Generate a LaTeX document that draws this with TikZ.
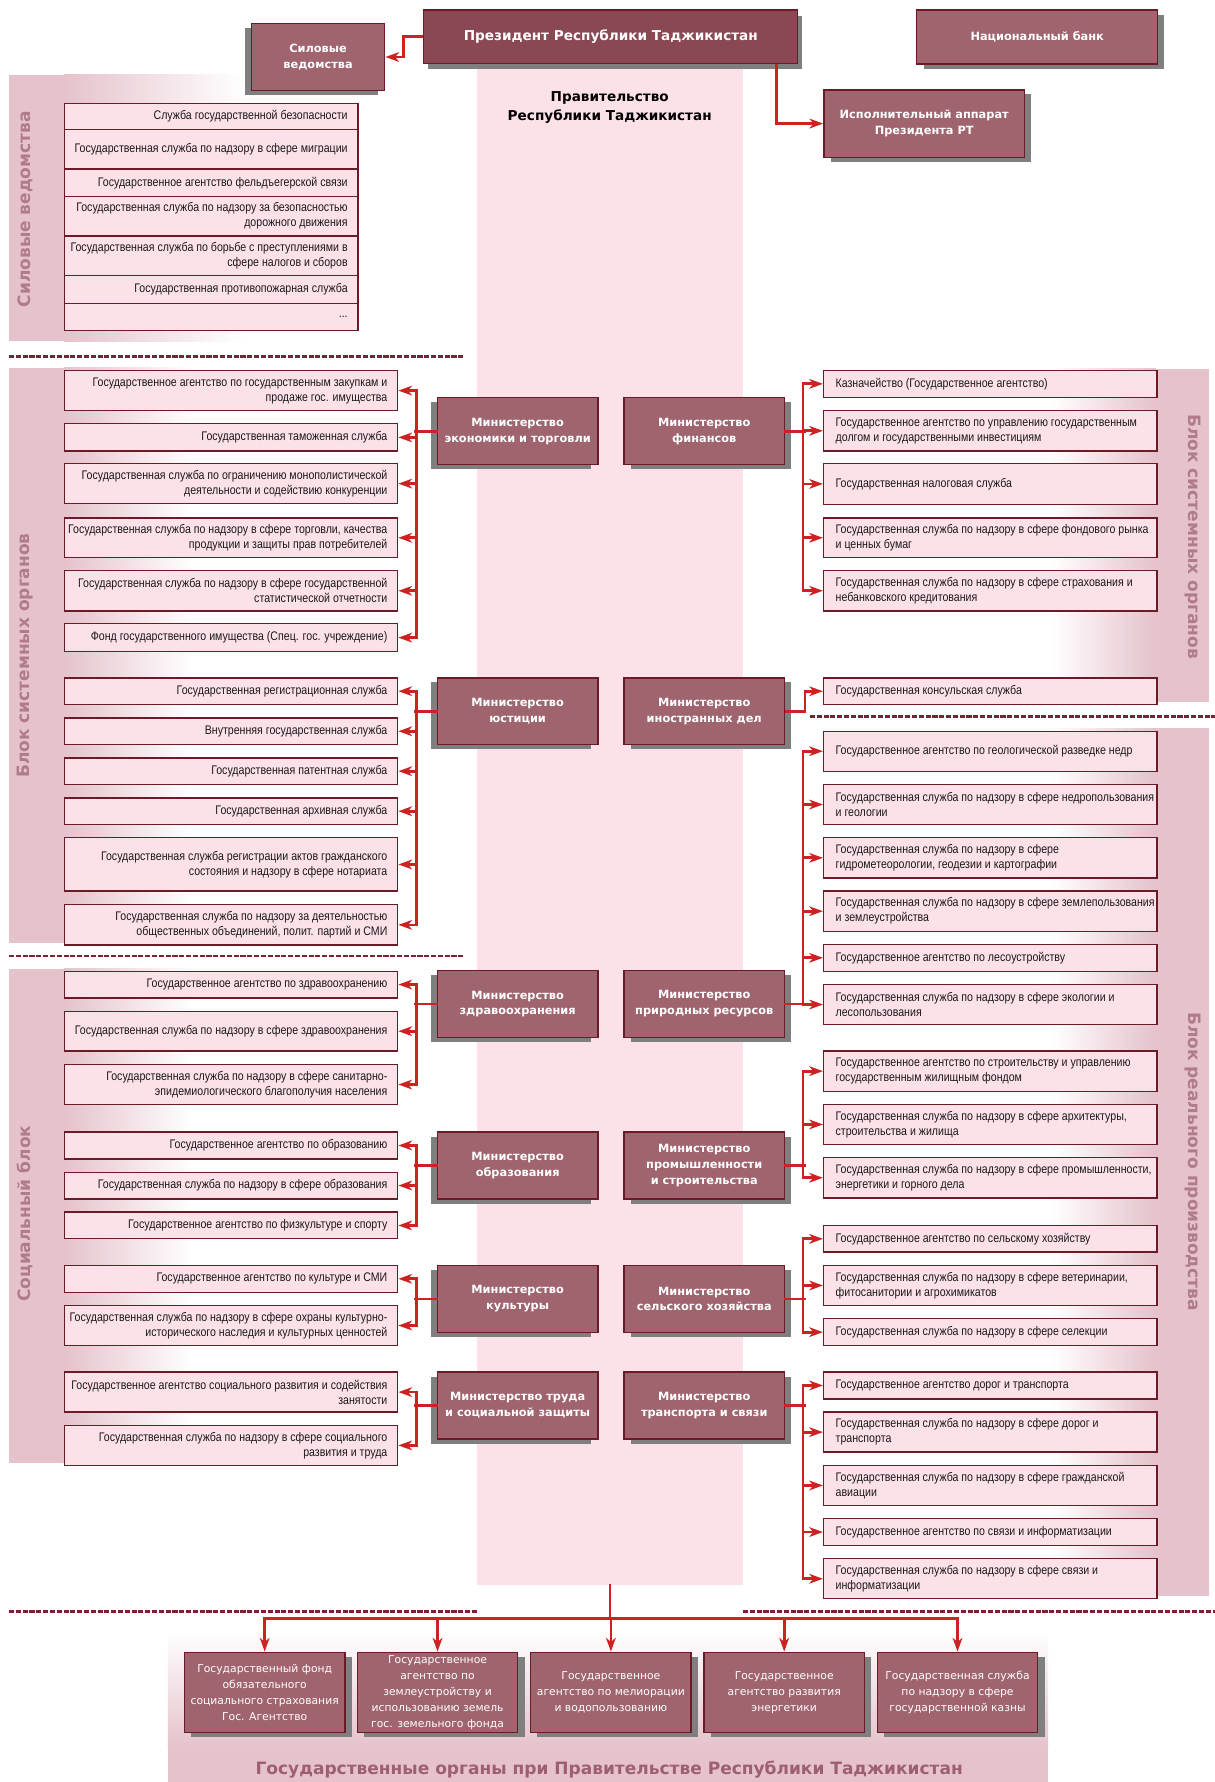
\documentclass[tikz,border=0pt]{standalone}
\usepackage{fontspec}
\setmainfont{Liberation Sans}
\newfontfamily\itemfont[FakeStretch=0.85]{Liberation Sans}
\newfontfamily\dvs{DejaVu Sans}
\usetikzlibrary{arrows.meta,shadows,calc}
\definecolor{govpink}{HTML}{FDE1E9}
\definecolor{itemfill}{HTML}{FDE1E9}
\definecolor{bandc}{HTML}{E5C2CC}
\definecolor{labelc}{HTML}{B07C8C}
\definecolor{minfill}{HTML}{A0646F}
\definecolor{presfill}{HTML}{8A4852}
\definecolor{borderc}{HTML}{6B1A28}
\definecolor{arrowc}{HTML}{CC2222}
\definecolor{dashc}{HTML}{7A2232}
\definecolor{shadowc}{HTML}{7F7F7F}
\definecolor{titlec}{HTML}{9E6070}
\tikzset{
  itembox/.style={draw=borderc, line width=1.2pt, fill=itemfill, anchor=north west, inner sep=0pt},
  ltext/.style={anchor=east, align=right, inner sep=0pt, text=black!90, font={\itemfont\fontsize{11}{13.2}\selectfont}},
  rtext/.style={anchor=west, align=left, inner sep=0pt, text=black!90, font={\itemfont\fontsize{11}{13.2}\selectfont}},
  shL/.style={drop shadow={shadow xshift=-6pt, shadow yshift=-4pt, opacity=1, fill=shadowc}},
  shR/.style={drop shadow={shadow xshift=6pt, shadow yshift=-4pt, opacity=1, fill=shadowc}},
  minbox/.style={draw=borderc, line width=1.2pt, fill=minfill, anchor=north west, minimum width=141.5pt, minimum height=59pt, inner sep=1pt, align=center, text=white, font={\dvs\bfseries\fontsize{10}{14}\selectfont}},
  minL/.style={minbox, shL},
  minR/.style={minbox, shR},
  botbox/.style={draw=borderc, line width=1.2pt, fill=minfill, anchor=north west, minimum width=141.5pt, minimum height=71pt, inner sep=1pt, align=center, text=white, font={\dvs\fontsize{9.5}{14}\selectfont}, shR},
  bus/.style={draw=arrowc, line width=2.4pt, line cap=rect},
  arr/.style={draw=arrowc, line width=2.4pt, -{Stealth[length=12pt,width=8.5pt,inset=3.5pt]}},
  dashsep/.style={draw=dashc, line width=2.4pt, dash pattern=on 4.5pt off 1.5pt},
  vlabel/.style={text=labelc, inner sep=0pt, font={\dvs\bfseries\fontsize{15}{18}\selectfont}},
}
\newcommand\Sitem[4]{\node[itembox, minimum width=259pt, minimum height=#3pt] (#1) at (56,#2) {};
  \node[ltext] (#1t) at ([xshift=-9.5pt]#1.east) {#4};}
\newcommand\Litem[4]{\node[itembox, minimum width=294pt, minimum height=#3pt] (#1) at (56,#2) {};
  \node[ltext] (#1t) at ([xshift=-9.5pt]#1.east) {#4};}
\newcommand\Ritem[4]{\node[itembox, minimum width=294pt, minimum height=#3pt] (#1) at (725.5,#2) {};
  \node[rtext] (#1t) at ([xshift=11pt]#1.west) {#4};}
\newcommand\LeftBus[3]{\draw[bus] (#1.west) -- ++(-19,0);
  \draw[bus] ([xshift=16pt]#2.east) -- ([xshift=16pt]#3.east);}
\newcommand\RightBus[3]{\draw[bus] (#1.east) -- ++(17.5,0);
  \draw[bus] ([xshift=-17.5pt]#2.west) -- ([xshift=-17.5pt]#3.west);}
\begin{document}
\begin{tikzpicture}[x=1pt,y=-1pt]
\useasboundingbox (0,0) rectangle (1071,1571);
\fill[white] (0,0) rectangle (1071,1571);
% side bands
\fill[bandc] (8,66) rectangle (56,301);
\shade[left color=bandc, right color=white] (56,66) rectangle (215,301);
\fill[bandc] (8,324) rectangle (56,831);
\shade[left color=bandc, right color=white] (56,324) rectangle (170,831);
\fill[bandc] (8,854) rectangle (56,1290);
\shade[left color=bandc, right color=white] (56,854) rectangle (170,1290);
\fill[bandc] (1019,325) rectangle (1066,619);
\shade[left color=white, right color=bandc] (927,325) rectangle (1019,619);
\fill[bandc] (1019,642) rectangle (1066,1407);
\shade[left color=white, right color=bandc] (927,642) rectangle (1019,1407);
\shade[top color=white, bottom color=bandc] (148,1438) rectangle (924,1540);
\fill[bandc] (148,1540) rectangle (924,1571);
% government column
\node[fill=govpink, anchor=north west, minimum width=235pt, minimum height=1342pt, inner sep=0pt] (gov) at (420,55) {};
\node[font={\dvs\bfseries\fontsize{12}{16}\selectfont}, align=center, inner sep=0pt] (govt) at (537.5,94.8) {Правительство\\Республики Таджикистан};
% dashed separators
\draw[dashsep] (8,314) -- (409,314);
\draw[dashsep] (8,842.7) -- (409,842.7);
\draw[dashsep] (714,631.7) -- (1071,631.7);
\draw[dashsep] (8,1420.6) -- (421,1420.6);
\draw[dashsep] (655,1420.6) -- (1071,1420.6);
% vertical labels
\node[vlabel, rotate=90] (lblsil) at (22,184.5) {Силовые ведомства};
\node[vlabel, rotate=90] (lblsys) at (22,578) {Блок системных органов};
\node[vlabel, rotate=90] (lblsoc) at (22,1070) {Социальный блок};
\node[vlabel, rotate=-90] (lblsysr) at (1051.5,473) {Блок системных органов};
\node[vlabel, rotate=-90] (lblreal) at (1051.5,1024) {Блок реального производства};
% top boxes
\node[minbox, fill=presfill, minimum width=329.7pt, minimum height=47pt, font={\dvs\bfseries\fontsize{12}{15}\selectfont}, drop shadow={shadow xshift=4pt, shadow yshift=-5pt, opacity=1, fill=shadowc}] (pres) at (373,8.2) {Президент Республики Таджикистан};
\node[minbox, shL, minimum width=117.6pt, minimum height=59.3pt] (sil) at (221,20) {Силовые\\ведомства};
\node[minbox, shR, minimum width=212.4pt, minimum height=47.6pt] (nb) at (807.6,8.2) {Национальный банк};
\node[minbox, shR, minimum width=177pt, minimum height=59.3pt] (exec) at (725.7,78.7) {Исполнительный аппарат\\Президента РТ};
% power items
\Sitem{s1}{90.5}{23}{Служба государственной безопасности}
\Sitem{s2}{113.5}{35}{Государственная служба по надзору в сфере миграции}
\Sitem{s3}{148.5}{24}{Государственное агентство фельдъегерской связи}
\Sitem{s4}{172.5}{35}{Государственная служба по надзору за безопасностью\\дорожного движения}
\Sitem{s5}{207.5}{35}{Государственная служба по борьбе с преступлениями в\\сфере налогов и сборов}
\Sitem{s6}{242.5}{24.5}{Государственная противопожарная служба}
\Sitem{s7}{267}{24}{...}
% left items
\Litem{e1}{326}{35.5}{Государственное агентство по государственным закупкам и\\продаже гос. имущества}
\Litem{e2}{373}{24}{Государственная таможенная служба}
\Litem{e3}{408}{35.5}{Государственная служба по ограничению монополистической\\деятельности и содействию конкуренции}
\Litem{e4}{456}{35}{Государственная служба по надзору в сфере торговли, качества\\продукции и защиты прав потребителей}
\Litem{e5}{502.5}{35.5}{Государственная служба по надзору в сфере государственной\\статистической отчетности}
\Litem{e6}{549}{25}{Фонд государственного имущества (Спец. гос. учреждение)}
\Litem{j1}{597}{23.5}{Государственная регистрационная служба}
\Litem{j2}{632.3}{23.5}{Внутренняя государственная служба}
\Litem{j3}{667.5}{23.5}{Государственная патентная служба}
\Litem{j4}{702.8}{23.5}{Государственная архивная служба}
\Litem{j5}{738}{47}{Государственная служба регистрации актов гражданского\\состояния и надзору в сфере нотариата}
\Litem{j6}{797}{35.5}{Государственная служба по надзору за деятельностью\\общественных объединений, полит. партий и СМИ}
\Litem{h1}{855.6}{23.5}{Государственное агентство по здравоохранению}
\Litem{h2}{891}{35}{Государственная служба по надзору в сфере здравоохранения}
\Litem{h3}{938}{35}{Государственная служба по надзору в сфере санитарно-\\эпидемиологического благополучия населения}
\Litem{o1}{997.5}{23.5}{Государственное агентство по образованию}
\Litem{o2}{1032.8}{23.5}{Государственная служба по надзору в сфере образования}
\Litem{o3}{1068}{23.5}{Государственное агентство по физкультуре и спорту}
\Litem{c1}{1115}{23.6}{Государственное агентство по культуре и СМИ}
\Litem{c2}{1150.3}{35.3}{Государственная служба по надзору в сфере охраны культурно-\\исторического наследия и культурных ценностей}
\Litem{t1}{1209}{35.3}{Государственное агентство социального развития и содействия\\занятости}
\Litem{t2}{1256}{35.3}{Государственная служба по надзору в сфере социального\\развития и труда}
% right items
\Ritem{f1}{326}{23.6}{Казначейство (Государственное агентство)}
\Ritem{f2}{361.4}{35.6}{Государственное агентство по управлению государственным\\долгом и государственными инвестициям}
\Ritem{f3}{408}{36}{Государственная налоговая служба}
\Ritem{f4}{456}{35}{Государственная служба по надзору в сфере фондового рынка\\и ценных бумаг}
\Ritem{f5}{502.4}{35.6}{Государственная служба по надзору в сфере страхования и\\небанковского кредитования}
\Ritem{d1}{597}{23.6}{Государственная консульская служба}
\Ritem{n1}{644}{35.3}{Государственное агентство по геологической разведке недр}
\Ritem{n2}{691}{35.3}{Государственная служба по надзору в сфере недропользования\\и геологии}
\Ritem{n3}{738}{35.3}{Государственная служба по надзору в сфере\\гидрометеорологии, геодезии и картографии}
\Ritem{n4}{785}{35.4}{Государственная служба по надзору в сфере землепользования\\и землеустройства}
\Ritem{n5}{832}{23.6}{Государственное агентство по лесоустройству}
\Ritem{n6}{867.3}{35.3}{Государственная служба по надзору в сфере экологии и\\лесопользования}
\Ritem{p1}{926}{35.4}{Государственное агентство по строительству и управлению\\государственным жилищным фондом}
\Ritem{p2}{973}{35.4}{Государственная служба по надзору в сфере архитектуры,\\строительства и жилища}
\Ritem{p3}{1020}{35.4}{Государственная служба по надзору в сфере промышленности,\\энергетики и горного дела}
\Ritem{a1}{1079.8}{23.5}{Государственное агентство по сельскому хозяйству}
\Ritem{a2}{1115}{35.3}{Государственная служба по надзору в сфере ветеринарии,\\фитосанитории и агрохимикатов}
\Ritem{a3}{1162}{23.6}{Государственная служба по надзору в сфере селекции}
\Ritem{r1}{1209}{23.6}{Государственное агентство дорог и транспорта}
\Ritem{r2}{1244.3}{35.3}{Государственная служба по надзору в сфере дорог и\\транспорта}
\Ritem{r3}{1291.3}{35.3}{Государственная служба по надзору в сфере гражданской\\авиации}
\Ritem{r4}{1338.3}{23.5}{Государственное агентство по связи и информатизации}
\Ritem{r5}{1373.6}{35.2}{Государственная служба по надзору в сфере связи и\\информатизации}
% ministries
\node[minL] (econ) at (385,350) {Министерство\\экономики и торговли};
\node[minR] (fin) at (549.5,350) {Министерство\\финансов};
\node[minL] (just) at (385,597) {Министерство\\юстиции};
\node[minR] (mid) at (549.5,597) {Министерство\\иностранных дел};
\node[minL] (health) at (385,855) {Министерство\\здравоохранения};
\node[minR] (natres) at (549.5,855) {Министерство\\природных ресурсов};
\node[minL] (edu) at (385,997.5) {Министерство\\образования};
\node[minR] (ind) at (549.5,997.5) {Министерство\\промышленности\\и строительства};
\node[minL] (cult) at (385,1115) {Министерство\\культуры};
\node[minR] (agr) at (549.5,1115) {Министерство\\сельского хозяйства};
\node[minL] (labor) at (385,1209) {Министерство труда\\и социальной защиты};
\node[minR] (trans) at (549.5,1209) {Министерство\\транспорта и связи};
% bottom agencies
\node[botbox] (b1) at (162,1456) {Государственный фонд\\обязательного\\социального страхования\\Гос. Агентство};
\node[botbox] (b2) at (314.4,1456) {Государственное\\агентство по\\землеустройству и\\использованию земель\\гос. земельного фонда};
\node[botbox] (b3) at (467.2,1456) {Государственное\\агентство по мелиорации\\и водопользованию};
\node[botbox] (b4) at (620,1456) {Государственное\\агентство развития\\энергетики};
\node[botbox] (b5) at (772.8,1456) {Государственная служба\\по надзору в сфере\\государственной казны};
\node[text=titlec, inner sep=0pt, font={\dvs\bfseries\fontsize{15}{18}\selectfont}] (btitle) at (537,1560) {Государственные органы при Правительстве Республики Таджикистан};
% connectors top
\draw[arr] (pres.west) -- ++(-17.3,0) |- (sil.east);
\draw[arr] (pres.south) ++(146,0) |- (exec.west);
% left groups
\LeftBus{econ}{e1}{e6}
\foreach \i in {e1,e2,e3,e4,e5,e6}{\draw[arr] ([xshift=16pt]\i.east) -- (\i.east);}
\LeftBus{just}{j1}{j6}
\foreach \i in {j1,j2,j3,j4,j5,j6}{\draw[arr] ([xshift=16pt]\i.east) -- (\i.east);}
\LeftBus{health}{h1}{h3}
\foreach \i in {h1,h2,h3}{\draw[arr] ([xshift=16pt]\i.east) -- (\i.east);}
\LeftBus{edu}{o1}{o3}
\foreach \i in {o1,o2,o3}{\draw[arr] ([xshift=16pt]\i.east) -- (\i.east);}
\LeftBus{cult}{c1}{c2}
\foreach \i in {c1,c2}{\draw[arr] ([xshift=16pt]\i.east) -- (\i.east);}
\LeftBus{labor}{t1}{t2}
\foreach \i in {t1,t2}{\draw[arr] ([xshift=16pt]\i.east) -- (\i.east);}
% right groups
\RightBus{fin}{f1}{f5}
\foreach \i in {f1,f2,f3,f4,f5}{\draw[arr] ([xshift=-17.5pt]\i.west) -- (\i.west);}
\draw[arr] (mid.east) -- ++(17.5,0) |- (d1.west);
\RightBus{natres}{n1}{n6}
\foreach \i in {n1,n2,n3,n4,n5,n6}{\draw[arr] ([xshift=-17.5pt]\i.west) -- (\i.west);}
\RightBus{ind}{p1}{p3}
\foreach \i in {p1,p2,p3}{\draw[arr] ([xshift=-17.5pt]\i.west) -- (\i.west);}
\RightBus{agr}{a1}{a3}
\foreach \i in {a1,a2,a3}{\draw[arr] ([xshift=-17.5pt]\i.west) -- (\i.west);}
\RightBus{trans}{r1}{r5}
\foreach \i in {r1,r2,r3,r4,r5}{\draw[arr] ([xshift=-17.5pt]\i.west) -- (\i.west);}
% bottom connectors
\coordinate (hb) at ([yshift=-29.5pt]gov.south);
\draw[bus] (gov.south) -- (hb);
\draw[bus] (b1.north |- hb) -- (b5.north |- hb);
\foreach \b in {b1,b2,b3,b4,b5}{\draw[arr] (\b.north |- hb) -- (\b.north);}
\end{tikzpicture}
\end{document}
